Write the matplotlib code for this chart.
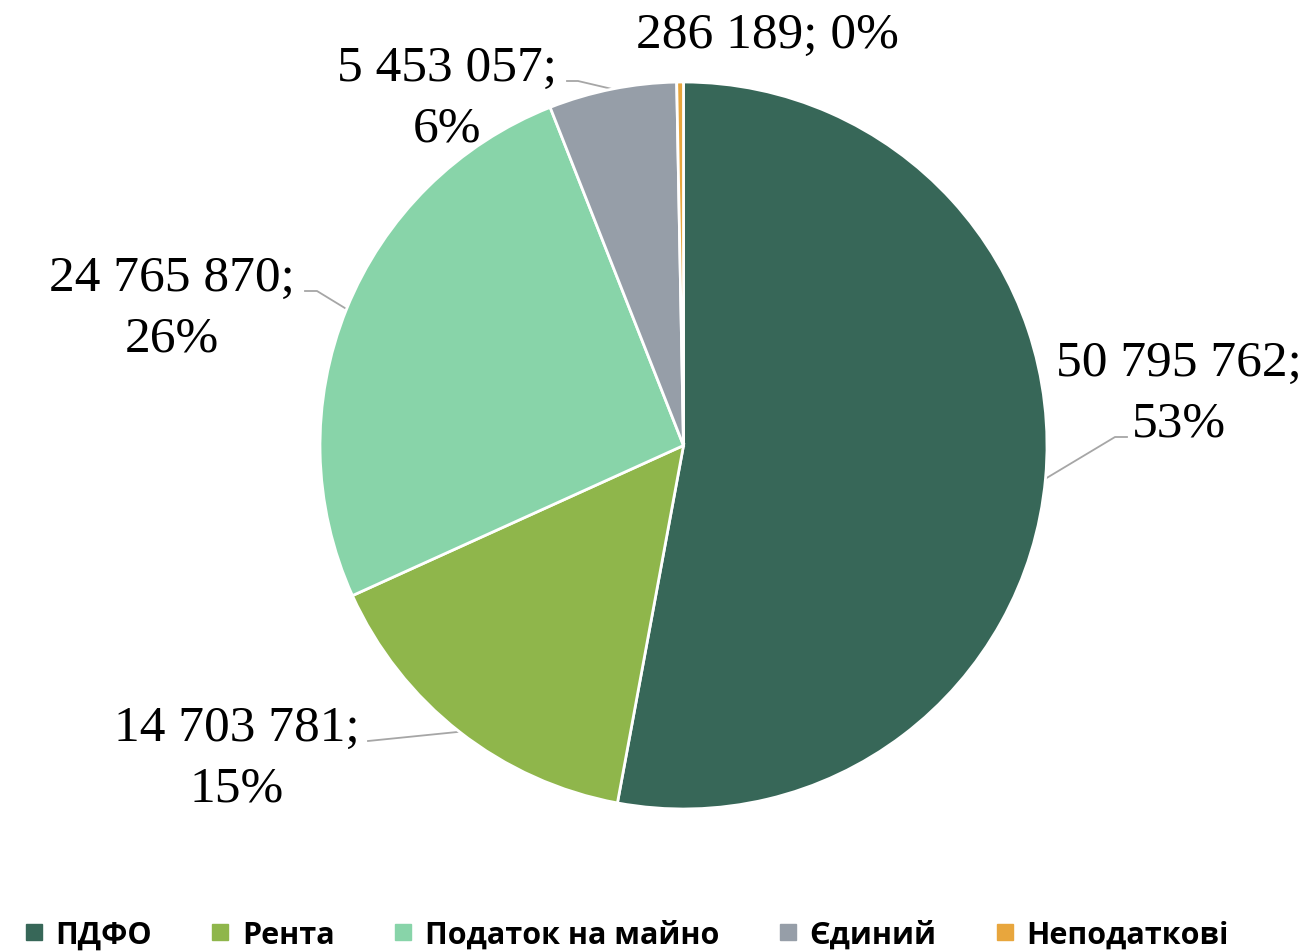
import matplotlib
matplotlib.use("Agg")
import matplotlib.pyplot as plt
import numpy as np
from matplotlib.lines import Line2D

categories = ["ПДФО", "Рента", "Податок на майно", "Єдиний", "Неподаткові"]
values = [50795762, 14703781, 24765870, 5453057, 286189]
value_labels = ["50 795 762", "14 703 781", "24 765 870", "5 453 057", "286 189"]
pct_labels = ["53%", "15%", "26%", "6%", "0%"]
colors = ["#376758", "#8FB64B", "#88D4A9", "#969EA8", "#E8A63D"]

W, H = 1311, 953
CX, CY, R = 683.5, 446.5, 363.5

def px(x, y):
    return ((x - CX) / R, (CY - y) / R)

fig = plt.figure(figsize=(W / 100, H / 100), dpi=100)
ax = fig.add_axes([0, 0, 1, 1])

wedges, _ = ax.pie(values, colors=colors, startangle=90, counterclock=False,
                   radius=1, center=(0, 0), frame=True,
                   wedgeprops=dict(edgecolor="white", linewidth=2.0))
ax.set_xlim(-CX / R, (W - CX) / R)
ax.set_ylim(-(H - CY) / R, CY / R)
ax.set_aspect("auto")
ax.axis("off")

# label placement (pixel positions of text centres) and leader paths
label_text = [
    f"{value_labels[0]};\n{pct_labels[0]}",
    f"{value_labels[1]};\n{pct_labels[1]}",
    f"{value_labels[2]};\n{pct_labels[2]}",
    f"{value_labels[3]};\n{pct_labels[3]}",
    f"{value_labels[4]}; {pct_labels[4]}",
]
label_pos = [(1179, 394), (237, 759), (172, 309), (447, 99), (767, 36)]
leader_pts = [
    [(1115, 438), (1127, 438)],
    [(368, 742)],
    [(317, 292), (305, 292)],
    [(578, 82), (567, 82)],
    None,
]

for w, txt, pos, pts in zip(wedges, label_text, label_pos, leader_pts):
    x, y = px(*pos)
    ax.text(x, y, txt, ha="center", va="center", family="Liberation Serif",
            fontsize=37, color="black", linespacing=1.42)
    if pts:
        ang = np.deg2rad((w.theta1 + w.theta2) / 2)
        xs = [np.cos(ang)] + [px(*p)[0] for p in pts]
        ys = [np.sin(ang)] + [px(*p)[1] for p in pts]
        ax.plot(xs, ys, color="#A6A6A6", lw=1.3, zorder=0.5)

handles = [Line2D([0], [0], marker="s", linestyle="none", markersize=11,
                  markerfacecolor=c, markeredgecolor=c) for c in colors]
leg = fig.legend(handles, categories, loc="center", ncol=5,
                 bbox_to_anchor=(625 / W, 1 - 936 / H), frameon=False,
                 prop=dict(family="Open Sans", weight="bold", size=22),
                 handletextpad=0.3, columnspacing=1.85, handlelength=0.8,
                 borderpad=0, borderaxespad=0)

fig.savefig("out.png", dpi=100)
